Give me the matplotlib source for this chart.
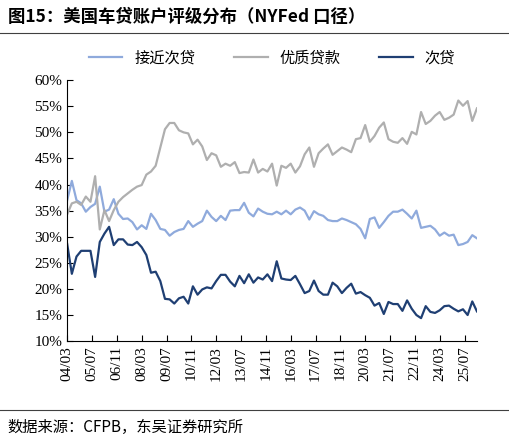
import numpy as np
import matplotlib.pyplot as plt
from matplotlib.lines import Line2D

plt.rcParams['font.family'] = ['Noto Sans CJK SC', 'DejaVu Sans']

# quarterly, starting 2004/03
near_prime = [37.0, 40.7, 37.0, 36.4, 34.8, 35.7, 36.3, 39.6, 34.8, 35.2, 37.2, 34.4, 33.4, 33.5, 32.8, 31.4,
              32.2, 31.5, 34.4, 33.2, 31.5, 31.3, 30.2, 30.9, 31.3, 31.5, 33.0, 31.9, 32.5, 33.0, 35.0, 33.8,
              33.0, 34.0, 33.2, 35.0, 35.1, 35.1, 36.5, 34.6, 33.9, 35.4, 34.8, 34.4, 34.3, 34.8, 34.3, 35.0,
              34.3, 35.2, 35.6, 35.0, 33.3, 34.9, 34.3, 34.0, 33.2, 33.0, 33.0, 33.5, 33.2, 32.8, 32.4, 31.5,
              29.7, 33.4, 33.7, 31.7, 32.8, 34.0, 34.8, 34.8, 35.2, 34.4, 33.5, 35.0, 31.7, 31.9, 32.1, 31.4,
              30.2, 30.8, 30.2, 30.4, 28.4, 28.6, 29.0, 30.3, 29.7]
prime = [34.3, 36.4, 36.7, 36.1, 37.7, 36.7, 41.6, 31.4, 35.1, 33.0, 35.1, 36.7, 37.6, 38.3, 39.0, 39.6,
         39.9, 41.9, 42.5, 43.6, 47.1, 50.6, 51.8, 51.8, 50.4, 50.0, 49.8, 47.7, 48.6, 47.3, 44.7, 46.0,
         45.6, 43.4, 44.0, 43.6, 44.3, 42.2, 42.4, 42.3, 44.8, 42.3, 43.0, 42.5, 44.0, 39.8, 43.6, 43.2,
         44.0, 42.3, 43.5, 45.8, 47.1, 43.4, 46.0, 46.9, 47.7, 45.7, 46.4, 47.1, 46.7, 46.2, 48.7, 48.9,
         51.4, 48.2, 49.3, 50.9, 51.9, 48.7, 48.2, 48.0, 48.9, 47.8, 50.1, 49.6, 53.9, 51.6, 52.2, 53.2,
         53.9, 52.4, 52.8, 53.4, 56.1, 55.1, 56.0, 52.2, 54.6]
subprime = [28.6, 22.9, 26.2, 27.3, 27.3, 27.3, 22.3, 29.0, 30.6, 31.9, 28.4, 29.5, 29.5, 28.5, 28.4, 29.0,
            28.0, 26.5, 23.1, 23.3, 21.5, 18.1, 18.0, 17.2, 18.2, 18.5, 17.2, 20.5, 18.9, 19.9, 20.3, 20.1,
            21.5, 22.7, 22.7, 21.4, 20.5, 22.5, 21.1, 22.8, 21.2, 22.2, 21.8, 22.8, 21.5, 25.3, 22.0, 21.8,
            21.7, 22.5, 20.9, 19.2, 19.6, 21.6, 19.6, 18.9, 18.9, 21.2, 20.5, 19.2, 20.2, 21.0, 19.1, 19.4,
            18.8, 18.3, 16.8, 17.3, 15.2, 17.5, 17.1, 17.1, 15.8, 17.8, 16.2, 15.0, 14.4, 16.7, 15.6, 15.4,
            15.9, 16.7, 16.8, 16.2, 15.7, 16.1, 15.0, 17.6, 15.7]
tick_labels = ['04/03', '05/07', '06/11', '08/03', '09/07', '10/11', '12/03', '13/07', '14/11',
               '16/03', '17/07', '18/11', '20/03', '21/07', '22/11', '24/03', '25/07']

months = np.arange(len(prime)) * 3

fig = plt.figure(figsize=(5.09, 4.43), dpi=100)
ax = fig.add_axes([0.132, 0.23, 0.805, 0.589])
ax.plot(months, near_prime, color='#8FAADC', lw=1.6, label='接近次贷')
ax.plot(months, prime, color='#AFAFAF', lw=1.6, label='优质贷款')
ax.plot(months, subprime, color='#1F3F73', lw=1.6, label='次贷')

ax.set_ylim(10, 60)
ax.set_yticks(range(10, 61, 5))
ax.set_yticklabels([f'{v}%' for v in range(10, 61, 5)], family=['Liberation Serif'], fontsize=11)
ax.set_xlim(0, months[-1])
ax.set_xticks(np.arange(len(tick_labels)) * 16)
ax.set_xticklabels(tick_labels, rotation=90, family=['Liberation Serif'], fontsize=11)
ax.tick_params(direction='in', length=4)
ax.spines['top'].set_visible(False)
ax.spines['right'].set_visible(False)
ax.legend(loc='lower center', bbox_to_anchor=(0.5, 1.0), ncol=3, frameon=False, fontsize=11,
          handlelength=2.2, columnspacing=2.5)

fig.text(0.015, 0.962, '图15：美国车贷账户评级分布（NYFed 口径）', fontsize=12.5, weight='bold', va='center')
fig.add_artist(Line2D([0.0, 1.0], [0.925, 0.925], color='#404040', lw=0.8))
fig.add_artist(Line2D([0.0, 1.0], [0.075, 0.075], color='#404040', lw=0.8))
fig.text(0.015, 0.035, '数据来源：CFPB，东吴证券研究所', fontsize=11, va='center')

fig.savefig('out.png', dpi=100)
